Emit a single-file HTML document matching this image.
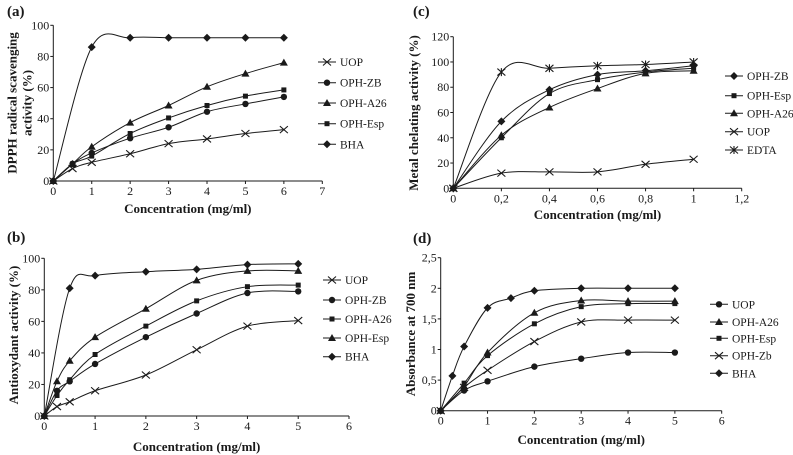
<!DOCTYPE html>
<html><head><meta charset="utf-8"><style>
html,body{margin:0;padding:0;background:#fff;}
svg{display:block;font-family:"Liberation Serif",serif;}
svg text{font-family:"Liberation Serif",serif;}
</style></head><body>
<svg id="fig" width="793" height="455" viewBox="0 0 793 455"></svg>
<script>
// ---- Panel (a) DPPH ----
const aX = [0,0.5,1,2,3,4,5,6];
const aBHAx = [0,1,2,3,4,5,6];
const aUOP = [0,8,12,17.5,24,27,30.5,33];
const aZB = [0,11,18,27.5,34.5,44.5,49.5,54];
const aA26 = [0,11,22,37.5,48.5,60.5,69,76];
const aEsp = [0,11,16,30.5,40.5,48.5,54.5,58.5];
const aBHA = [0,86,92,92,92,92,92];
const aXTicks = [0,1,2,3,4,5,6,7];
const aYTicks = [0,20,40,60,80,100];
// ---- Panel (b) Antioxidant ----
const bX = [0,0.25,0.5,1,2,3,4,5];
const bBHAx = [0,0.5,1,2,3,4,5];
const bUOP = [0,6,9,16,26,42,57,60.5];
const bZB = [0,16,22,33,50,65,78,79];
const bA26 = [0,13,23,39,57,73,82,83];
const bEsp = [0,22,35,50,68,86,92,92];
const bBHA = [0,81,89,91.5,93,96,96.5];
const bXTicks = [0,1,2,3,4,5,6];
const bYTicks = [0,20,40,60,80,100];
// ---- Panel (c) Metal chelating ----
const cX = [0,0.2,0.4,0.6,0.8,1];
const cZB = [0,53,78,90,93,97];
const cEsp = [0,40,75,86,92,95];
const cA26 = [0,42,64,79,91,93];
const cUOP = [0,12,13,13,19,23];
const cEDTA = [0,92,95,97,98,100];
const cXTicks = [0,0.2,0.4,0.6,0.8,1,1.2];
const cXLabels = ["0","0,2","0,4","0,6","0,8","1","1,2"];
const cYTicks = [0,20,40,60,80,100,120];
// ---- Panel (d) Reducing power ----
const dX = [0,0.5,1,2,3,4,5];
const dBHAx = [0,0.25,0.5,1,1.5,2,3,4,5];
const dUOP = [0,0.33,0.48,0.72,0.85,0.95,0.95];
const dA26 = [0,0.4,0.95,1.6,1.8,1.79,1.79];
const dEsp = [0,0.45,0.9,1.42,1.7,1.75,1.75];
const dZb = [0,0.38,0.66,1.13,1.45,1.48,1.48];
const dBHA = [0,0.57,1.05,1.68,1.84,1.96,2,2,2];
const dXTicks = [0,1,2,3,4,5,6];
const dYTicks = [0,0.5,1,1.5,2,2.5];
const dYLabels = ["0","0,5","1","1,5","2","2,5"];

const NS="http://www.w3.org/2000/svg";
const svg=document.getElementById('fig');
const C="#1a1a1a";
const FF="Liberation Serif, serif";
function mk(tag,attrs,parent){const e=document.createElementNS(NS,tag);for(const k in attrs)e.setAttribute(k,attrs[k]);(parent||svg).appendChild(e);return e;}
function txt(s,attrs,parent){attrs['font-family']=FF;const e=mk('text',attrs,parent);e.textContent=s;return e;}

function smooth(pts){
  if(pts.length<2)return '';
  let d='M'+pts[0][0]+','+pts[0][1];
  for(let i=0;i<pts.length-1;i++){
    const p0=pts[i-1]||pts[i],p1=pts[i],p2=pts[i+1],p3=pts[i+2]||p2;
    const t=1/6;
    const c1=[p1[0]+(p2[0]-p0[0])*t,p1[1]+(p2[1]-p0[1])*t];
    const c2=[p2[0]-(p3[0]-p1[0])*t,p2[1]-(p3[1]-p1[1])*t];
    d+=' C'+c1[0]+','+c1[1]+' '+c2[0]+','+c2[1]+' '+p2[0]+','+p2[1];
  }
  return d;
}
function marker(g,type,x,y){
  if(type==='circle')mk('circle',{cx:x,cy:y,r:3.2,fill:C},g);
  else if(type==='square')mk('rect',{x:x-2.5,y:y-2.5,width:5,height:5,fill:C},g);
  else if(type==='tri')mk('path',{d:`M${x},${y-4} L${x+4},${y+3} L${x-4},${y+3}Z`,fill:C},g);
  else if(type==='diamond')mk('path',{d:`M${x},${y-4} L${x+4},${y} L${x},${y+4} L${x-4},${y}Z`,fill:C},g);
  else if(type==='x')mk('path',{d:`M${x-4},${y-3.5} L${x+4},${y+3.5} M${x-4},${y+3.5} L${x+4},${y-3.5}`,stroke:C,'stroke-width':1.1,fill:'none'},g);
  else if(type==='star')mk('path',{d:`M${x-4},${y-3.5} L${x+4},${y+3.5} M${x-4},${y+3.5} L${x+4},${y-3.5} M${x},${y-4} L${x},${y+4}`,stroke:C,'stroke-width':1.1,fill:'none'},g);
}

function panel(p){
  const g=mk('g',{}); 
  
  const sx=v=>p.x0+(v-p.xmin)/(p.xmax-p.xmin)*(p.x1-p.x0);
  const sy=v=>p.y0-(v-p.ymin)/(p.ymax-p.ymin)*(p.y0-p.y1);
  const ax=mk('path',{d:`M${p.x0},${p.y1} L${p.x0},${p.y0} L${p.x1},${p.y0}`,stroke:C,'stroke-width':1,fill:'none'},g);
  
  
  p.yt.forEach((v,i)=>{
    const y=sy(v);
    mk('line',{x1:p.x0-3,y1:y,x2:p.x0,y2:y,stroke:C},g);
    const t=txt(p.ytl?p.ytl[i]:String(v),{x:p.x0-4,y:y+4,'text-anchor':'end','font-size':12,fill:C},g);
    
    
  });
  p.xt.forEach((v,i)=>{
    const x=sx(v);
    mk('line',{x1:x,y1:p.y0,x2:x,y2:p.y0+3,stroke:C},g);
    const t=txt(p.xtl?p.xtl[i]:String(v),{x:x,y:p.y0+14,'text-anchor':'middle','font-size':12,fill:C},g);
    
    
  });
  const xt=txt('Concentration (mg/ml)',{x:(p.x0+p.x1)/2,y:p.xtY,'text-anchor':'middle','font-size':13,'font-weight':'bold',fill:C},g);
  
  
  const yg=mk('g',{transform:`translate(${p.ytX},${p.ytCY}) rotate(-90)`},g);
  p.ytitle.forEach((s,i)=>{
    const t=txt(s,{x:0,y:i*15-(p.ytitle.length-1)*7.5+4,'text-anchor':'middle','font-size':13,'font-weight':'bold',fill:C},yg);
    
    
  });
  const lab=txt(p.label,{x:p.lx,y:p.ly,'font-size':15,'font-weight':'bold',fill:C},g);
  
  
  p.series.forEach((s,k)=>{
    const sg=mk('g',{},g);
    
    
    const pts=s.xs.map((v,i)=>[sx(v),sy(s.ys[i])]);
    mk('path',{d:smooth(pts),stroke:C,'stroke-width':1,fill:'none'},sg);
    pts.forEach(q=>marker(sg,s.m,q[0],q[1]));
    const ly=p.legY[k];
    const lg=mk('g',{},g);
    
    
    mk('line',{x1:p.legX,y1:ly,x2:p.legX+18,y2:ly,stroke:C},lg);
    marker(lg,s.m,p.legX+9,ly);
    txt(s.n,{x:p.legX+22,y:ly+4,'font-size':11.5,fill:C},lg);
  });
}

panel({name:'panel-a-dpph',label:'(a)',lx:7,ly:16,x0:53.3,x1:322.3,y0:181,y1:25.3,xmin:0,xmax:7,ymin:0,ymax:100,
  xt:aXTicks,yt:aYTicks,xtY:213,ytX:20,ytCY:103,ytitle:['DPPH radical scavenging','activity (%)'],
  legX:318,legY:[62,82.7,103,123.7,144.3],
  series:[{n:'UOP',m:'x',xs:aX,ys:aUOP},{n:'OPH-ZB',m:'circle',xs:aX,ys:aZB},{n:'OPH-A26',m:'tri',xs:aX,ys:aA26},{n:'OPH-Esp',m:'square',xs:aX,ys:aEsp},{n:'BHA',m:'diamond',xs:aBHAx,ys:aBHA}]});

panel({name:'panel-b-antioxidant',label:'(b)',lx:7,ly:242,x0:44.3,x1:349,y0:416,y1:258.3,xmin:0,xmax:6,ymin:0,ymax:100,
  xt:bXTicks,yt:bYTicks,xtY:451,ytX:14,ytCY:335,ytitle:['Antioxydant activity (%)'],
  legX:323,legY:[280,300,319,338,356.7],
  series:[{n:'UOP',m:'x',xs:bX,ys:bUOP},{n:'OPH-ZB',m:'circle',xs:bX,ys:bZB},{n:'OPH-A26',m:'square',xs:bX,ys:bA26},{n:'OPH-Esp',m:'tri',xs:bX,ys:bEsp},{n:'BHA',m:'diamond',xs:bBHAx,ys:bBHA}]});

panel({name:'panel-c-metal-chelating',label:'(c)',lx:413,ly:16,x0:453.3,x1:741.7,y0:188.3,y1:36.7,xmin:0,xmax:1.2,ymin:0,ymax:120,
  xt:cXTicks,xtl:cXLabels,yt:cYTicks,xtY:219,ytX:414,ytCY:113,ytitle:['Metal chelating activity (%)'],
  legX:725,legY:[76,95.7,113.3,131.7,150],
  series:[{n:'OPH-ZB',m:'diamond',xs:cX,ys:cZB},{n:'OPH-Esp',m:'square',xs:cX,ys:cEsp},{n:'OPH-A26',m:'tri',xs:cX,ys:cA26},{n:'UOP',m:'x',xs:cX,ys:cUOP},{n:'EDTA',m:'star',xs:cX,ys:cEDTA}]});

panel({name:'panel-d-reducing-power',label:'(d)',lx:413,ly:243,x0:440.7,x1:721.7,y0:410.7,y1:257.7,xmin:0,xmax:6,ymin:0,ymax:2.5,
  xt:dXTicks,yt:dYTicks,ytl:dYLabels,xtY:444,ytX:411,ytCY:334,ytitle:['Absorbance at 700 nm'],
  legX:710,legY:[304.3,322,338.3,355.7,373.3],
  series:[{n:'UOP',m:'circle',xs:dX,ys:dUOP},{n:'OPH-A26',m:'tri',xs:dX,ys:dA26},{n:'OPH-Esp',m:'square',xs:dX,ys:dEsp},{n:'OPH-Zb',m:'x',xs:dX,ys:dZb},{n:'BHA',m:'diamond',xs:dBHAx,ys:dBHA}]});
</script>
</body></html>
